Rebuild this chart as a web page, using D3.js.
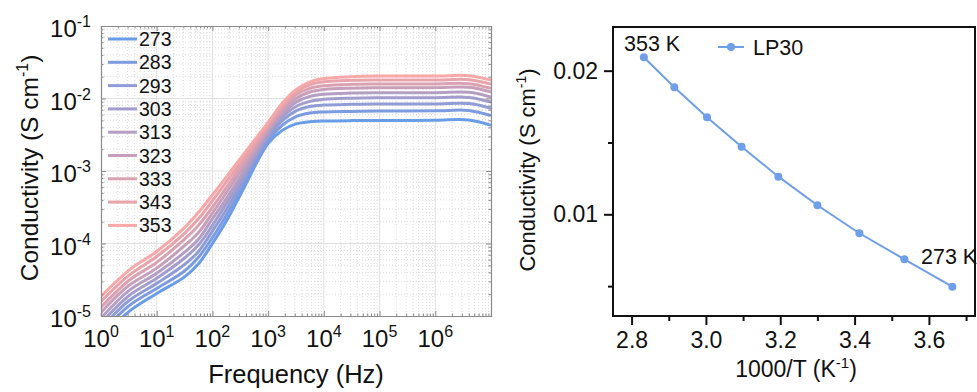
<!DOCTYPE html>
<html><head><meta charset="utf-8">
<script src="https://cdn.jsdelivr.net/npm/d3@7"></script>
<style>
body{margin:0;background:#fff;}
svg{font-family:"Liberation Sans",Arial,sans-serif;}
</style></head>
<body><svg id="c" width="977" height="392"></svg>
<script>
// ---------- DATA ----------
const temps = [273, 283, 293, 303, 313, 323, 333, 343, 353];
const colors = ["#6a9de8", "#7d9be0", "#909cd6", "#a29dcc", "#b49ec3", "#c79fba", "#d9a1b1", "#e9a3aa", "#f7a8a8"];
const freqs = [1, 3.16, 10, 31.6, 56.2, 100, 178, 316, 1000, 1778, 3162, 5623, 1e4, 3.16e4, 1e5, 1e6, 4e6, 1e7];
// log10 of conductivity (S/cm), one row per temperature
const logCond273 = [-5.32, -4.94, -4.69, -4.46, -4.28, -4.00, -3.69, -3.33, -2.62, -2.44, -2.35, -2.32, -2.31, -2.305, -2.305, -2.30, -2.295, -2.37];
const logCond283 = [-5.24, -4.86, -4.62, -4.38, -4.19, -3.92, -3.61, -3.27, -2.58, -2.37, -2.25, -2.20, -2.185, -2.178, -2.174, -2.17, -2.165, -2.235];
const logCond293 = [-5.17, -4.79, -4.55, -4.29, -4.11, -3.83, -3.53, -3.20, -2.54, -2.31, -2.17, -2.11, -2.09, -2.08, -2.077, -2.075, -2.07, -2.135];
const logCond303 = [-5.10, -4.72, -4.48, -4.20, -4.02, -3.75, -3.45, -3.14, -2.50, -2.26, -2.11, -2.04, -2.01, -1.995, -1.99, -1.988, -1.985, -2.05];
const logCond313 = [-5.03, -4.65, -4.41, -4.12, -3.94, -3.66, -3.38, -3.08, -2.46, -2.22, -2.05, -1.97, -1.94, -1.925, -1.921, -1.92, -1.915, -1.98];
const logCond323 = [-4.95, -4.58, -4.34, -4.03, -3.85, -3.58, -3.30, -3.01, -2.43, -2.18, -2.00, -1.91, -1.875, -1.857, -1.852, -1.85, -1.845, -1.91];
const logCond333 = [-4.88, -4.51, -4.26, -3.94, -3.75, -3.50, -3.23, -2.95, -2.39, -2.14, -1.95, -1.86, -1.825, -1.805, -1.801, -1.80, -1.795, -1.86];
const logCond343 = [-4.80, -4.44, -4.18, -3.86, -3.66, -3.41, -3.15, -2.89, -2.36, -2.10, -1.91, -1.81, -1.77, -1.75, -1.746, -1.745, -1.74, -1.80];
const logCond353 = [-4.73, -4.37, -4.11, -3.78, -3.57, -3.33, -3.08, -2.83, -2.33, -2.07, -1.88, -1.77, -1.725, -1.70, -1.691, -1.69, -1.685, -1.745];
const allLogCond = [logCond273, logCond283, logCond293, logCond303, logCond313, logCond323, logCond333, logCond343, logCond353];
const xExps = [0, 1, 2, 3, 4, 5, 6];
const yExps = [-1, -2, -3, -4, -5];

// Arrhenius panel
const invT = [2.833, 2.915, 3.003, 3.096, 3.195, 3.300, 3.413, 3.534, 3.663];
const lp30 = [0.02093, 0.01884, 0.01675, 0.01471, 0.01262, 0.01063, 0.00868, 0.00687, 0.00496];
const rXTicks = [2.8, 3.0, 3.2, 3.4, 3.6];
const rXMinor = [2.9, 3.1, 3.3, 3.5, 3.7];
const rYTicks = [0.01, 0.02];
const rYMinor = [0.005, 0.015];

// ---------- LEFT PANEL ----------
const svg = d3.select("#c");
const L = {x0: 101, x1: 491, y0: 26, y1: 316};
const x = d3.scaleLog().domain([1, 1e7]).range([L.x0, L.x1]);
const y = d3.scaleLog().domain([1e-5, 1e-1]).range([L.y1, L.y0]);

const grid = svg.append("g");
const minorX = [], minorY = [];
for (let e = 0; e < 7; e++) for (let m = 2; m <= 9; m++) minorX.push(m * Math.pow(10, e));
for (let e = -5; e < -1; e++) for (let m = 2; m <= 9; m++) minorY.push(m * Math.pow(10, e));
grid.selectAll(".mx").data(minorX).join("line")
  .attr("x1", d => x(d)).attr("x2", d => x(d)).attr("y1", L.y0).attr("y2", L.y1)
  .attr("stroke", "#d4d4d4").attr("stroke-width", 0.8).attr("stroke-dasharray", "1,2");
grid.selectAll(".my").data(minorY).join("line")
  .attr("y1", d => y(d)).attr("y2", d => y(d)).attr("x1", L.x0).attr("x2", L.x1)
  .attr("stroke", "#d4d4d4").attr("stroke-width", 0.8).attr("stroke-dasharray", "1,2");
grid.selectAll(".Mx").data(xExps.slice(1)).join("line")
  .attr("x1", d => x(Math.pow(10, d))).attr("x2", d => x(Math.pow(10, d))).attr("y1", L.y0).attr("y2", L.y1)
  .attr("stroke", "#e0e0e0").attr("stroke-width", 1);
grid.selectAll(".My").data(yExps.slice(1, 4)).join("line")
  .attr("y1", d => y(Math.pow(10, d))).attr("y2", d => y(Math.pow(10, d))).attr("x1", L.x0).attr("x2", L.x1)
  .attr("stroke", "#e0e0e0").attr("stroke-width", 1);

svg.append("clipPath").attr("id", "clipL").append("rect")
  .attr("x", L.x0).attr("y", L.y0).attr("width", L.x1 - L.x0).attr("height", L.y1 - L.y0);

const line = d3.line().curve(d3.curveCatmullRom.alpha(0.5)).x(d => x(d[0])).y(d => y(d[1]));
const curves = svg.append("g").attr("clip-path", "url(#clipL)");
allLogCond.forEach((arr, i) => {
  const pts = freqs.map((f, j) => [f, Math.pow(10, arr[j])]);
  curves.append("path").datum(pts).attr("d", line)
    .attr("fill", "none").attr("stroke", colors[i]).attr("stroke-width", 3)
    .attr("stroke-linejoin", "round");
});

const axCol = "#8a8a8a";
function logAxis(axisFn, scale, tr) {
  const horiz = axisFn === d3.axisBottom || axisFn === d3.axisTop;
  const g = svg.append("g").attr("transform", tr)
    .call(axisFn(scale).tickValues(scale.ticks()).tickSize(-3).tickFormat(""));
  g.select(".domain").attr("stroke", axCol).attr("stroke-width", 1.2);
  g.selectAll(".tick line").attr("stroke", axCol)
    .attr(horiz ? "y2" : "x2", function(d) {
      const l = Math.abs(Math.log10(d) - Math.round(Math.log10(d))) < 1e-6 ? 5 : 2.5;
      return (axisFn === d3.axisBottom || axisFn === d3.axisRight) ? -l : l;
    });
  return g;
}
logAxis(d3.axisBottom, x, `translate(0,${L.y1})`);
logAxis(d3.axisTop, x, `translate(0,${L.y0})`);
logAxis(d3.axisLeft, y, `translate(${L.x0},0)`);
logAxis(d3.axisRight, y, `translate(${L.x1},0)`);

xExps.forEach(e => {
  const t = svg.append("text").attr("x", x(Math.pow(10, e))).attr("y", 347)
    .attr("text-anchor", "middle").attr("font-size", 24).attr("fill", "#111");
  t.append("tspan").text("10");
  t.append("tspan").attr("dy", -10).attr("font-size", 16).text(e);
});
yExps.forEach(e => {
  const t = svg.append("text").attr("x", 91).attr("y", y(Math.pow(10, e)) + 11)
    .attr("text-anchor", "end").attr("font-size", 24).attr("fill", "#111");
  t.append("tspan").text("10");
  t.append("tspan").attr("dy", -10).attr("font-size", 16).text(e);
});
svg.append("text").attr("x", 296).attr("y", 383).attr("text-anchor", "middle")
  .attr("font-size", 25.5).attr("fill", "#111").text("Frequency (Hz)");
const yl = svg.append("text").attr("transform", "translate(38,168) rotate(-90)")
  .attr("text-anchor", "middle").attr("font-size", 24.5).attr("fill", "#111");
yl.append("tspan").text("Conductivity (S cm");
yl.append("tspan").attr("dy", -10).attr("font-size", 16).text("-1");
yl.append("tspan").attr("dy", 10).text(")");

temps.forEach((t, i) => {
  const ly = 39 + i * 23.3;
  svg.append("line").attr("x1", 108).attr("x2", 137).attr("y1", ly).attr("y2", ly)
    .attr("stroke", colors[i]).attr("stroke-width", 3);
  svg.append("text").attr("x", 139).attr("y", ly + 7).attr("font-size", 19.5)
    .attr("fill", "#111").text(t);
});

// ---------- RIGHT PANEL ----------
const R = {x0: 613, x1: 975, y0: 27, y1: 316};
const rx = d3.scaleLinear().domain([2.75, 3.724]).range([R.x0, R.x1]);
const ry = d3.scaleLinear().domain([0.00292, 0.02304]).range([R.y1, R.y0]);

const rg = svg.append("g");
rg.append("rect").attr("x", R.x0).attr("y", R.y0).attr("width", R.x1 - R.x0).attr("height", R.y1 - R.y0)
  .attr("fill", "none").attr("stroke", "#111").attr("stroke-width", 2);
const gx = rg.append("g").attr("transform", `translate(0,${R.y1})`)
  .call(d3.axisBottom(rx).tickValues(rXTicks).tickSize(9).tickPadding(7).tickFormat(d3.format(".1f")));
const gxm = rg.append("g").attr("transform", `translate(0,${R.y1})`)
  .call(d3.axisBottom(rx).tickValues(rXMinor).tickSize(5).tickFormat(""));
const gy = rg.append("g").attr("transform", `translate(${R.x0},0)`)
  .call(d3.axisLeft(ry).tickValues(rYTicks).tickSize(9).tickPadding(6).tickFormat(d3.format(".2f")));
const gym = rg.append("g").attr("transform", `translate(${R.x0},0)`)
  .call(d3.axisLeft(ry).tickValues(rYMinor).tickSize(5).tickFormat(""));
[gx, gxm, gy, gym].forEach(g => {
  g.select(".domain").remove();
  g.selectAll(".tick line").attr("stroke", "#111").attr("stroke-width", 2);
  g.selectAll(".tick text").attr("font-size", 23).attr("fill", "#111")
    .attr("font-family", "Liberation Sans, Arial, sans-serif");
});

const rline = d3.line().x((d, i) => rx(invT[i])).y(d => ry(d));
rg.append("path").datum(lp30).attr("d", rline).attr("fill", "none")
  .attr("stroke", "#6f9fe8").attr("stroke-width", 2);
rg.selectAll(".pt").data(lp30).join("circle")
  .attr("cx", (d, i) => rx(invT[i])).attr("cy", d => ry(d)).attr("r", 4).attr("fill", "#6f9fe8");

rg.append("text").attr("x", 624).attr("y", 51).attr("font-size", 21.5).attr("fill", "#111").text("353 K");
rg.append("text").attr("x", 921).attr("y", 264).attr("font-size", 21.5).attr("fill", "#111").text("273 K");
rg.append("line").attr("x1", 718).attr("x2", 744).attr("y1", 47).attr("y2", 47)
  .attr("stroke", "#6f9fe8").attr("stroke-width", 2);
rg.append("circle").attr("cx", 731).attr("cy", 47).attr("r", 4).attr("fill", "#6f9fe8");
rg.append("text").attr("x", 753).attr("y", 55).attr("font-size", 21.5).attr("fill", "#111").text("LP30");

svg.append("text").attr("x", 796).attr("y", 377).attr("text-anchor", "middle")
  .attr("font-size", 23).attr("fill", "#111")
  .call(t => {
    t.append("tspan").text("1000/T (K");
    t.append("tspan").attr("dy", -9).attr("font-size", 15).text("-1");
    t.append("tspan").attr("dy", 9).text(")");
  });
const ryl = svg.append("text").attr("transform", "translate(535,170) rotate(-90)")
  .attr("text-anchor", "middle").attr("font-size", 22).attr("fill", "#111");
ryl.append("tspan").text("Conductivity (S cm");
ryl.append("tspan").attr("dy", -9).attr("font-size", 14).text("-1");
ryl.append("tspan").attr("dy", 9).text(")");
</script></body></html>
